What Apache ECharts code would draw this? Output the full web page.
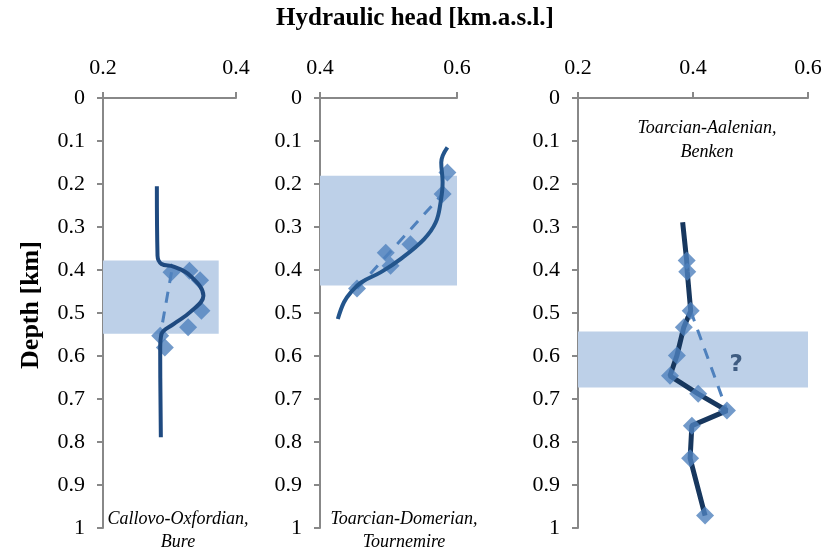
<!DOCTYPE html>
<html>
<head>
<meta charset="utf-8">
<script src="https://cdn.jsdelivr.net/npm/echarts@6/dist/echarts.min.js"></script>
<style>
  html, body { margin: 0; padding: 0; background: #fff; }
  #chart { width: 827px; height: 552px; }
</style>
</head>
<body>
<div id="chart"></div>
<script>
// Hydraulic head profiles [head km.a.s.l., depth km] for three clay formations

// Callovo-Oxfordian, Bure
const bureProfile = [[0.281,0.205],[0.282,0.367],[0.288,0.386],[0.306,0.392],[0.331,0.413],[0.351,0.460],[0.331,0.498],[0.306,0.526],[0.288,0.549],[0.286,0.584],[0.287,0.789]];
const bureMeasured = [[0.303,0.405],[0.330,0.402],[0.346,0.424],[0.348,0.495],[0.328,0.533],[0.286,0.553],[0.293,0.580]];
const bureDashed = [[0.303,0.405],[0.286,0.553]];
const bureLayer = [[0.2,0.378],[0.374,0.548]];

// Toarcian-Domerian, Tournemire
const tournemireProfile = [[0.586,0.115],[0.577,0.150],[0.579,0.196],[0.576,0.243],[0.569,0.289],[0.552,0.328],[0.518,0.374],[0.489,0.405],[0.460,0.429],[0.445,0.452],[0.435,0.475],[0.426,0.514]];
const tournemireMeasured = [[0.586,0.173],[0.579,0.223],[0.532,0.340],[0.496,0.360],[0.503,0.390],[0.454,0.443]];
const tournemireDashed = [[0.454,0.443],[0.579,0.223]];
const tournemireLayer = [[0.4,0.181],[0.6,0.436]];

// Toarcian-Aalenian, Benken
const benkenProfile = [[0.382,0.289],[0.389,0.378],[0.390,0.404],[0.396,0.495],[0.384,0.533],[0.372,0.599],[0.360,0.646],[0.409,0.688],[0.459,0.727],[0.398,0.762],[0.395,0.838],[0.421,0.971]];
const benkenMeasured = [[0.389,0.378],[0.390,0.404],[0.396,0.495],[0.384,0.533],[0.372,0.599],[0.360,0.646],[0.409,0.688],[0.459,0.727],[0.398,0.762],[0.395,0.838],[0.421,0.971]];
const benkenDashed = [[0.396,0.495],[0.459,0.727]];
const benkenLayer = [[0.2,0.543],[0.605,0.673]];
const benkenQuery = [[0.475,0.620]];

const headRanges = [[0.2,0.4],[0.4,0.6],[0.2,0.6]];

const FONT = '"Liberation Serif", "DejaVu Serif", serif';
const AXIS_GRAY = '#888888';
const MARK_BLUE = '#4f81bd';
const LAYER_BLUE = '#bdd0e8';

const grids = [
  { left: 103, top: 98, width: 133, height: 430 },
  { left: 320, top: 98, width: 137, height: 430 },
  { left: 578, top: 98, width: 230, height: 430 }
];

const xAxes = headRanges.map((r, i) => ({
  type: 'value', gridIndex: i, position: 'top',
  min: r[0], max: r[1], interval: 0.2,
  axisLine: { show: true, lineStyle: { color: AXIS_GRAY, width: 2 } },
  axisTick: { show: true, inside: false, length: 6, lineStyle: { color: AXIS_GRAY, width: 2 } },
  axisLabel: { color: '#000', fontFamily: FONT, fontSize: 22, margin: 19 },
  splitLine: { show: false }
}));

const yAxes = grids.map((g, i) => ({
  type: 'value', gridIndex: i, inverse: true,
  min: 0, max: 1, interval: 0.1,
  axisLine: { show: true, lineStyle: { color: AXIS_GRAY, width: 2 } },
  axisTick: { show: true, inside: false, length: 6, lineStyle: { color: AXIS_GRAY, width: 2 } },
  axisLabel: { color: '#000', fontFamily: FONT, fontSize: 22, margin: 18 },
  splitLine: { show: false }
}));

function layerSeries(i, box) {
  return {
    type: 'line', xAxisIndex: i, yAxisIndex: i, data: [], silent: true, z: 1,
    markArea: {
      silent: true,
      itemStyle: { color: LAYER_BLUE },
      data: [[{ xAxis: box[0][0], yAxis: box[0][1] }, { xAxis: box[1][0], yAxis: box[1][1] }]]
    }
  };
}
function profileSeries(i, data, color, width, smooth) {
  return {
    type: 'line', xAxisIndex: i, yAxisIndex: i, data: data, smooth: smooth,
    showSymbol: false, symbol: 'none', z: 4,
    lineStyle: { color: color, width: width }
  };
}
function measuredSeries(i, data) {
  return {
    type: 'scatter', xAxisIndex: i, yAxisIndex: i, data: data, z: 3,
    symbol: 'diamond', symbolSize: 18,
    itemStyle: { color: MARK_BLUE }
  };
}
function dashedSeries(i, data) {
  return {
    type: 'line', xAxisIndex: i, yAxisIndex: i, data: data, symbol: 'none', z: 2,
    lineStyle: { color: MARK_BLUE, width: 3, type: [11, 9] }
  };
}

const option = {
  animation: false,
  backgroundColor: '#ffffff',
  grid: grids,
  xAxis: xAxes,
  yAxis: yAxes,
  series: [
    layerSeries(0, bureLayer),
    dashedSeries(0, bureDashed),
    measuredSeries(0, bureMeasured),
    profileSeries(0, bureProfile, '#1f4a80', 4, 0.4),

    layerSeries(1, tournemireLayer),
    dashedSeries(1, tournemireDashed),
    measuredSeries(1, tournemireMeasured),
    profileSeries(1, tournemireProfile, '#23558c', 4, 0.4),

    layerSeries(2, benkenLayer),
    dashedSeries(2, benkenDashed),
    profileSeries(2, benkenProfile, '#17375e', 5, false),
    Object.assign(measuredSeries(2, benkenMeasured), { z: 5 }),
    {
      type: 'scatter', xAxisIndex: 2, yAxisIndex: 2, data: benkenQuery,
      symbolSize: 0, z: 6,
      label: { show: true, position: 'inside', formatter: '?', color: '#1f3f66',
               fontFamily: '"DejaVu Sans", sans-serif', fontSize: 23, fontWeight: 'bold' }
    }
  ],
  graphic: [
    { type: 'text', x: 415, y: 19,
      style: { text: 'Hydraulic head [km.a.s.l.]', font: 'bold 25px ' + FONT, fill: '#000',
               align: 'center', verticalAlign: 'middle' } },
    { type: 'text', x: 31, y: 305, rotation: Math.PI / 2,
      style: { text: 'Depth [km]', font: 'bold 26px ' + FONT, fill: '#000',
               align: 'center', verticalAlign: 'middle' } },
    { type: 'text', x: 178, y: 531,
      style: { text: 'Callovo-Oxfordian,\nBure', font: 'italic 18px ' + FONT, fill: '#000',
               align: 'center', verticalAlign: 'middle', lineHeight: 23 } },
    { type: 'text', x: 404, y: 531,
      style: { text: 'Toarcian-Domerian,\nTournemire', font: 'italic 18px ' + FONT, fill: '#000',
               align: 'center', verticalAlign: 'middle', lineHeight: 23 } },
    { type: 'text', x: 707, y: 140,
      style: { text: 'Toarcian-Aalenian,\nBenken', font: 'italic 18px ' + FONT, fill: '#000',
               align: 'center', verticalAlign: 'middle', lineHeight: 24 } }
  ]
};

const chart = echarts.init(document.getElementById('chart'), null, { renderer: 'canvas' });
chart.setOption(option);
</script>
</body>
</html>
